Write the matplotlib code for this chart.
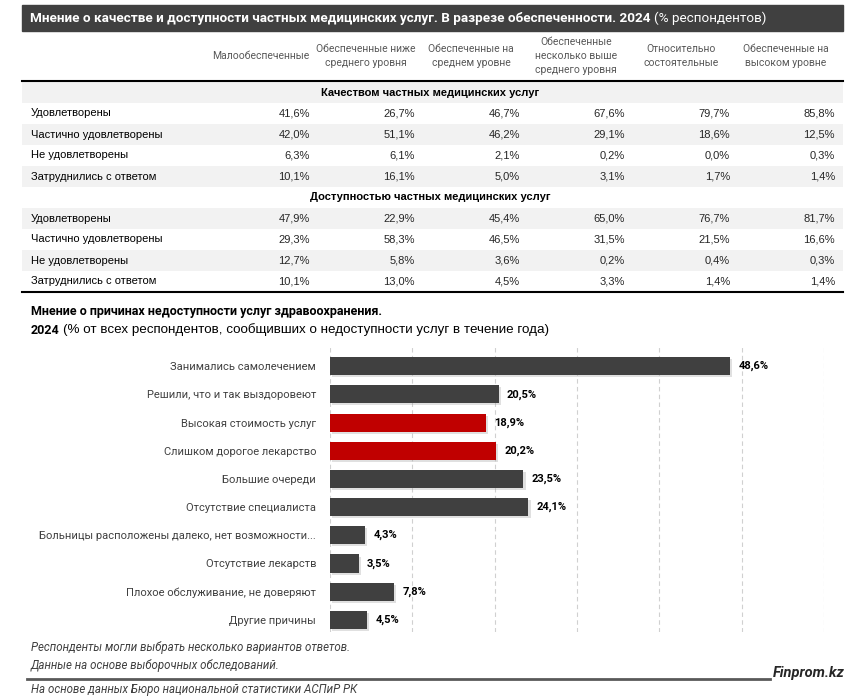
import matplotlib
matplotlib.use("Agg")
import matplotlib.pyplot as plt
from matplotlib.patches import Rectangle
import matplotlib.patheffects as pe

plt.rcParams['font.family'] = ['Liberation Sans', 'DejaVu Sans']
NARROW = ['Roboto', 'DejaVu Sans']

# table data
groups = ["Малообеспеченные", "Обеспеченные ниже\nсреднего уровня",
          "Обеспеченные на\nсреднем уровне", "Обеспеченные\nнесколько выше\nсреднего уровня",
          "Относительно\nсостоятельные", "Обеспеченные на\nвысоком уровне"]
answers = ["Удовлетворены", "Частично удовлетворены", "Не удовлетворены", "Затруднились с ответом"]
sections = ["Качеством частных медицинских услуг", "Доступностью частных медицинских услуг"]
quality = [[41.6, 26.7, 46.7, 67.6, 79.7, 85.8],
           [42.0, 51.1, 46.2, 29.1, 18.6, 12.5],
           [6.3, 6.1, 2.1, 0.2, 0.0, 0.3],
           [10.1, 16.1, 5.0, 3.1, 1.7, 1.4]]
access = [[47.9, 22.9, 45.4, 65.0, 76.7, 81.7],
          [29.3, 58.3, 46.5, 31.5, 21.5, 16.6],
          [12.7, 5.8, 3.6, 0.2, 0.4, 0.3],
          [10.1, 13.0, 4.5, 3.3, 1.4, 1.4]]

# bar chart data
reasons = ["Занимались самолечением", "Решили, что и так выздоровеют",
           "Высокая стоимость услуг", "Слишком дорогое лекарство",
           "Большие очереди", "Отсутствие специалиста",
           "Больницы расположены далеко, нет возможности...",
           "Отсутствие лекарств", "Плохое обслуживание, не доверяют", "Другие причины"]
shares = [48.6, 20.5, 18.9, 20.2, 23.5, 24.1, 4.3, 3.5, 7.8, 4.5]
red_reasons = ["Высокая стоимость услуг", "Слишком дорогое лекарство"]

DARK = "#404040"
RED = "#c00000"
STRIPE = "#f2f2f2"


def pct(v):
    return f"{v:.1f}%".replace(".", ",")


fig = plt.figure(figsize=(8.6, 6.98), dpi=100)
ax0 = fig.add_axes([0, 0, 1, 1])
ax0.set_xlim(0, 860)
ax0.set_ylim(698, 0)
ax0.axis("off")
r = fig.canvas.get_renderer()

# title bar
ax0.add_patch(Rectangle((22, 5), 821, 26, color=DARK, zorder=0))
t1 = ax0.text(30, 18.5, "Мнение о качестве и доступности частных медицинских услуг. В разрезе обеспеченности. 2024",
              color="white", fontsize=9.7, fontweight="bold", va="center", family=NARROW)
bb = t1.get_window_extent(r)
x_end = ax0.transData.inverted().transform((bb.x1, 0))[0]
ax0.text(x_end + 4, 18.5, "(% респондентов)", color="white", fontsize=9.7, va="center", family=NARROW)

# column headers
col_right = [310 + 105 * i for i in range(6)]
for i, g in enumerate(groups):
    ax0.text(col_right[i] - 49, 56, g, ha="center", va="center", fontsize=7.5,
             color="#595959", linespacing=1.5, multialignment="center", family=NARROW)
ax0.plot([22, 843], [81, 81], color="black", lw=1.5)

# rows
y = 82
row_h = 21
stripe = True
for sec, block in zip(sections, [quality, access]):
    if stripe:
        ax0.add_patch(Rectangle((22, y), 821, row_h, color=STRIPE, zorder=0, lw=0))
    ax0.text(430, y + row_h / 2, sec, ha="center", va="center", fontsize=8,
             fontweight="bold", color="black")
    y += row_h
    stripe = not stripe
    for ans, vals in zip(answers, block):
        if stripe:
            ax0.add_patch(Rectangle((22, y), 821, row_h, color=STRIPE, zorder=0, lw=0))
        ax0.text(31, y + row_h / 2, ans, va="center", fontsize=8, color="black")
        for i, v in enumerate(vals):
            ax0.text(col_right[i], y + row_h / 2, pct(v), ha="right", va="center",
                     fontsize=8, color="#262626")
        y += row_h
        stripe = not stripe
ax0.plot([22, 843], [y, y], color="black", lw=1.5)

# bar chart title
ax0.text(31, 312, "Мнение о причинах недоступности услуг здравоохранения.", fontsize=9,
         fontweight="bold", va="center", family=NARROW)
t3 = ax0.text(31, 330, "2024", fontsize=9, fontweight="bold", va="center", family=NARROW)
bb = t3.get_window_extent(r)
x_end = ax0.transData.inverted().transform((bb.x1, 0))[0]
ax0.text(x_end + 3, 330, "(% от всех респондентов, сообщивших о недоступности услуг в течение года)",
         fontsize=9.6, va="center")

# bar chart
ax = fig.add_axes([330 / 860, 1 - 632 / 698, (824 - 330) / 860, (632 - 345) / 698])
colors = [RED if c in red_reasons else DARK for c in reasons]
pos = list(range(len(reasons)))
bars = ax.barh(pos, shares, height=0.64, color=colors, zorder=3)
for b in bars:
    b.set_path_effects([pe.SimplePatchShadow(offset=(1.5, -1.5), shadow_rgbFace="#999999", alpha=0.3),
                        pe.Normal()])
for p, v in zip(pos, shares):
    ax.text(v + 1, p, pct(v), va="center", ha="left", fontsize=8, fontweight="bold",
            color="black", family=NARROW)
ax.set_xlim(0, 60)
ax.set_ylim(len(reasons) - 0.57, -0.75)
ax.set_xticks(range(0, 61, 10))
ax.set_xticklabels([])
ax.tick_params(axis="x", length=0)
ax.tick_params(axis="y", length=0, pad=10)
ax.set_yticks(pos)
ax.set_yticklabels(reasons, fontsize=8, color=DARK, family=NARROW)
ax.grid(axis="x", color="#d0d0d0", ls=(0, (4, 3)), lw=0.8, zorder=0)
for s in ax.spines.values():
    s.set_visible(False)
ax.patch.set_alpha(0)

# footer
ax0.text(31, 648, "Респонденты могли выбрать несколько вариантов ответов.", fontsize=8.3,
         style="italic", color="#404040", va="center", family=NARROW)
ax0.text(31, 665, "Данные на основе выборочных обследований.", fontsize=8.3,
         style="italic", color="#404040", va="center", family=NARROW)
ax0.plot([27, 770], [679, 679], color="#595959", lw=2)
ax0.text(845, 673, "Finprom.kz", fontsize=10.5, style="italic", fontweight="bold",
         color="#262626", ha="right", va="center", family=NARROW)
ax0.text(31, 689, "На основе данных Бюро национальной статистики АСПиР РК", fontsize=8.3,
         style="italic", color="#404040", va="center", family=NARROW)

fig.savefig("out.png", dpi=100)
